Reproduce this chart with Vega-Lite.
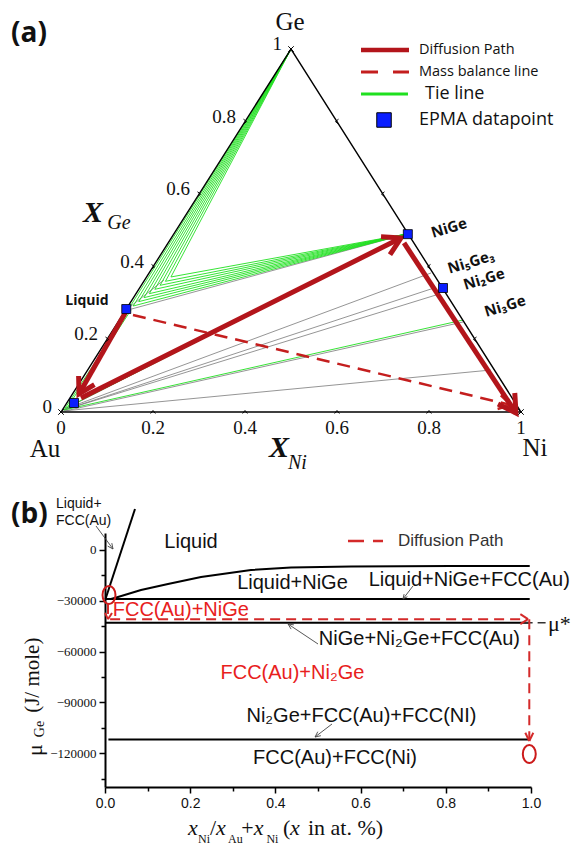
{
  "$schema": "https://vega.github.io/schema/vega-lite/v6.json",
  "padding": {"left": 10, "top": 0, "right": 0, "bottom": 0},
  "autosize": {"type": "pad"},
  "spacing": 20,
  "config": {"view": {"stroke": null}, "axis": {"grid": false}},
  "datasets": {
    "tern": [
      {"id": "tri", "kind": "edge", "o": 0, "n": 0, "g": 0},
      {"id": "tri", "kind": "edge", "o": 1, "n": 1, "g": 0},
      {"id": "tri", "kind": "edge", "o": 2, "n": 0, "g": 1},
      {"id": "tri", "kind": "edge", "o": 3, "n": 0, "g": 0},
      {"id": "gf0", "kind": "green", "o": 0, "n": 0, "g": 1}, {"id": "gf0", "kind": "green", "o": 1, "n": 0.005, "g": 0.281},
      {"id": "gf1", "kind": "green", "o": 0, "n": 0, "g": 1}, {"id": "gf1", "kind": "green", "o": 1, "n": 0.011, "g": 0.292},
      {"id": "gf2", "kind": "green", "o": 0, "n": 0, "g": 1}, {"id": "gf2", "kind": "green", "o": 1, "n": 0.017, "g": 0.304},
      {"id": "gf3", "kind": "green", "o": 0, "n": 0, "g": 1}, {"id": "gf3", "kind": "green", "o": 1, "n": 0.023, "g": 0.315},
      {"id": "gf4", "kind": "green", "o": 0, "n": 0, "g": 1}, {"id": "gf4", "kind": "green", "o": 1, "n": 0.029, "g": 0.326},
      {"id": "gf5", "kind": "green", "o": 0, "n": 0, "g": 1}, {"id": "gf5", "kind": "green", "o": 1, "n": 0.035, "g": 0.338},
      {"id": "gf6", "kind": "green", "o": 0, "n": 0, "g": 1}, {"id": "gf6", "kind": "green", "o": 1, "n": 0.041, "g": 0.349},
      {"id": "gf7", "kind": "green", "o": 0, "n": 0, "g": 1}, {"id": "gf7", "kind": "green", "o": 1, "n": 0.047, "g": 0.360},
      {"id": "gf8", "kind": "green", "o": 0, "n": 0, "g": 1}, {"id": "gf8", "kind": "green", "o": 1, "n": 0.053, "g": 0.372},
      {"id": "nf1", "kind": "green", "o": 0, "n": 0.011, "g": 0.292}, {"id": "nf1", "kind": "green", "o": 1, "n": 0.505, "g": 0.49},
      {"id": "nf2", "kind": "green", "o": 0, "n": 0.017, "g": 0.304}, {"id": "nf2", "kind": "green", "o": 1, "n": 0.505, "g": 0.49},
      {"id": "nf3", "kind": "green", "o": 0, "n": 0.023, "g": 0.315}, {"id": "nf3", "kind": "green", "o": 1, "n": 0.505, "g": 0.49},
      {"id": "nf4", "kind": "green", "o": 0, "n": 0.029, "g": 0.326}, {"id": "nf4", "kind": "green", "o": 1, "n": 0.505, "g": 0.49},
      {"id": "nf5", "kind": "green", "o": 0, "n": 0.035, "g": 0.338}, {"id": "nf5", "kind": "green", "o": 1, "n": 0.505, "g": 0.49},
      {"id": "nf6", "kind": "green", "o": 0, "n": 0.041, "g": 0.349}, {"id": "nf6", "kind": "green", "o": 1, "n": 0.505, "g": 0.49},
      {"id": "nf7", "kind": "green", "o": 0, "n": 0.047, "g": 0.360}, {"id": "nf7", "kind": "green", "o": 1, "n": 0.505, "g": 0.49},
      {"id": "nf8", "kind": "green", "o": 0, "n": 0.053, "g": 0.372}, {"id": "nf8", "kind": "green", "o": 1, "n": 0.505, "g": 0.49},
      {"id": "L1", "kind": "green", "o": 0, "n": 0.0117, "g": 0.281}, {"id": "L1", "kind": "green", "o": 1, "n": 0.0075, "g": 0.011},
      {"id": "L2", "kind": "green", "o": 0, "n": 0.008, "g": 0.2755}, {"id": "L2", "kind": "green", "o": 1, "n": 0.0037, "g": 0.0055},
      {"id": "G4", "kind": "green", "o": 0, "n": 0.0054, "g": 0.011}, {"id": "G4", "kind": "green", "o": 1, "n": 0.5076, "g": 0.4848},
      {"id": "G8", "kind": "green", "o": 0, "n": 0.0037, "g": 0.0055}, {"id": "G8", "kind": "green", "o": 1, "n": 0.7472, "g": 0.2534},
      {"id": "gl", "kind": "gray", "o": 0, "n": 0.005, "g": 0.281}, {"id": "gl", "kind": "gray", "o": 1, "n": 0.505, "g": 0.49},
      {"id": "G1", "kind": "gray", "o": 0, "n": 0.001, "g": 0.281}, {"id": "G1", "kind": "gray", "o": 1, "n": 0.042, "g": 0.364},
      {"id": "G3", "kind": "gray", "o": 0, "n": 0.0046, "g": 0.0083}, {"id": "G3", "kind": "gray", "o": 1, "n": 0.505, "g": 0.49},
      {"id": "G5", "kind": "gray", "o": 0, "n": 0.0046, "g": 0.0083}, {"id": "G5", "kind": "gray", "o": 1, "n": 0.6128, "g": 0.3829},
      {"id": "G6", "kind": "gray", "o": 0, "n": 0.0037, "g": 0.0055}, {"id": "G6", "kind": "gray", "o": 1, "n": 0.6401, "g": 0.3416},
      {"id": "G7", "kind": "gray", "o": 0, "n": 0.0037, "g": 0.0055}, {"id": "G7", "kind": "gray", "o": 1, "n": 0.654, "g": 0.3223},
      {"id": "G9", "kind": "gray", "o": 0, "n": 0.0073, "g": 0.0028}, {"id": "G9", "kind": "gray", "o": 1, "n": 0.7499, "g": 0.2479},
      {"id": "G10", "kind": "gray", "o": 0, "n": 0.0029, "g": 0.0028}, {"id": "G10", "kind": "gray", "o": 1, "n": 0.8769, "g": 0.1157},
      {"id": "p1", "kind": "path", "o": 0, "n": 0.003, "g": 0.276}, {"id": "p1", "kind": "path", "o": 1, "n": 0.0143, "g": 0.0496},
      {"id": "h1", "kind": "path", "o": 0, "n": 0.035, "g": 0.0752}, {"id": "h1", "kind": "path", "o": 1, "n": 0.0143, "g": 0.0496}, {"id": "h1", "kind": "path", "o": 2, "n": -0.0113, "g": 0.0992},
      {"id": "p2", "kind": "path", "o": 0, "n": 0.0242, "g": 0.0386}, {"id": "p2", "kind": "path", "o": 1, "n": 0.4994, "g": 0.4793},
      {"id": "h2", "kind": "path", "o": 0, "n": 0.4544, "g": 0.4826}, {"id": "h2", "kind": "path", "o": 1, "n": 0.4994, "g": 0.4793}, {"id": "h2", "kind": "path", "o": 2, "n": 0.4985, "g": 0.4333},
      {"id": "p3", "kind": "path", "o": 0, "n": 0.5129, "g": 0.4656}, {"id": "p3", "kind": "path", "o": 1, "n": 0.9905, "g": -0.0028},
      {"id": "h3", "kind": "path", "o": 0, "n": 0.9603, "g": 0.0523}, {"id": "h3", "kind": "path", "o": 1, "n": 0.9905, "g": -0.0028}, {"id": "h3", "kind": "path", "o": 2, "n": 0.939, "g": 0.022},
      {"id": "m1", "kind": "mass", "o": 0, "n": 0.0229, "g": 0.2672}, {"id": "m1", "kind": "mass", "o": 1, "n": 0.9687, "g": 0.0193},
      {"id": "mh", "kind": "masshead", "o": 0, "n": 0.9332, "g": 0.0457}, {"id": "mh", "kind": "masshead", "o": 1, "n": 0.9687, "g": 0.0193}, {"id": "mh", "kind": "masshead", "o": 2, "n": 0.945, "g": 0.0083}
    ],
    "epma": [
      {"n": 0.0, "g": 0.2837}, {"n": 0.0159, "g": 0.0248}, {"n": 0.509, "g": 0.49}, {"n": 0.6596, "g": 0.3416}
    ],
    "tticks": [
      {"side": "b", "n": 0.2, "g": 0}, {"side": "b", "n": 0.4, "g": 0}, {"side": "b", "n": 0.6, "g": 0}, {"side": "b", "n": 0.8, "g": 0},
      {"side": "l", "n": 0, "g": 0.2}, {"side": "l", "n": 0, "g": 0.4}, {"side": "l", "n": 0, "g": 0.6}, {"side": "l", "n": 0, "g": 0.8},
      {"side": "r", "n": 0.8, "g": 0.2}, {"side": "r", "n": 0.6, "g": 0.4}, {"side": "r", "n": 0.4, "g": 0.6}, {"side": "r", "n": 0.2, "g": 0.8},
      {"side": "v", "n": 0, "g": 0}, {"side": "v", "n": 1, "g": 0}, {"side": "v", "n": 0, "g": 1}
    ],
    "tlab_bottom": [
      {"n": 0, "g": 0, "t": "0"}, {"n": 0.2, "g": 0, "t": "0.2"}, {"n": 0.4, "g": 0, "t": "0.4"},
      {"n": 0.6, "g": 0, "t": "0.6"}, {"n": 0.8, "g": 0, "t": "0.8"}, {"n": 1, "g": 0, "t": "1"}
    ],
    "tlab_left": [
      {"n": 0, "g": 0, "t": "0"}, {"n": 0, "g": 0.2, "t": "0.2"}, {"n": 0, "g": 0.4, "t": "0.4"},
      {"n": 0, "g": 0.6, "t": "0.6"}, {"n": 0, "g": 0.8, "t": "0.8"}, {"n": 0, "g": 1, "t": "1"}
    ],
    "vlab": [
      {"px": 0.4978, "py": 1.0744, "t": "Ge"}, {"px": -0.0348, "py": -0.1019, "t": "Au"}, {"px": 1.0304, "py": -0.0992, "t": "Ni"}
    ],
    "xt_a_main": [{"px": 0.0696, "py": 0.5482, "t": "X"}, {"px": 0.4739, "py": -0.0992, "t": "X"}],
    "xt_a_sub": [{"px": 0.1261, "py": 0.5207, "t": "Ge"}, {"px": 0.514, "py": -0.1405, "t": "Ni"}],
    "phase_a": [
      {"px": 0.8435, "py": 0.5069, "t": "NiGe"}, {"px": 0.8913, "py": 0.4132, "t": "Ni₅Ge₃"},
      {"px": 0.9196, "py": 0.3664, "t": "Ni₂Ge"}, {"px": 0.9652, "py": 0.292, "t": "Ni₃Ge"}
    ],
    "liq_a": [{"px": 0.0565, "py": 0.3058, "t": "Liquid"}],
    "leg_a_lines": [
      {"k": "diff", "px": 0.6522, "py": 0.9972}, {"k": "diff", "px": 0.7565, "py": 0.9972},
      {"k": "mass", "px": 0.6522, "py": 0.9366}, {"k": "mass", "px": 0.7565, "py": 0.9366},
      {"k": "tie", "px": 0.6522, "py": 0.876}, {"k": "tie", "px": 0.7543, "py": 0.876}
    ],
    "leg_a_sq": [{"px": 0.7022, "py": 0.8044}],
    "leg_a_text": [
      {"t": "Diffusion Path", "px": 0.7783, "py": 0.9972}, {"t": "Mass balance line", "px": 0.7783, "py": 0.9366},
      {"t": "Tie line", "px": 0.7913, "py": 0.876}, {"t": "EPMA datapoint", "px": 0.7783, "py": 0.8044}
    ],
    "alab": [{"t": "(a)", "px": -0.1087, "py": 1.0799}],
    "segs": [
      {"k": "black", "x": 0.0012, "y": -28976, "x2": 0.0704, "y2": 24173},
      {"k": "black", "x": 0, "y": -29000, "x2": 0.997, "y2": -29000},
      {"k": "black", "x": 0, "y": -43000, "x2": 0.997, "y2": -43000},
      {"k": "black", "x": 0.008, "y": -112000, "x2": 0.997, "y2": -112000},
      {"k": "reddash", "x": 0.007, "y": -31900, "x2": 0.007, "y2": -40500},
      {"k": "reddash", "x": 0.012, "y": -40900, "x2": 0.99, "y2": -40900},
      {"k": "reddash", "x": 0.996, "y": -40900, "x2": 0.996, "y2": -112500},
      {"k": "redhead", "x": 0.0, "y": -37200, "x2": 0.007, "y2": -40900},
      {"k": "redhead", "x": 0.0164, "y": -37200, "x2": 0.007, "y2": -40900},
      {"k": "redhead", "x": 0.975, "y": -37950, "x2": 0.993, "y2": -40900},
      {"k": "redhead", "x": 0.975, "y": -43850, "x2": 0.993, "y2": -40900},
      {"k": "redhead", "x": 0.9866, "y": -108000, "x2": 0.996, "y2": -112800},
      {"k": "redhead", "x": 1.0054, "y": -108000, "x2": 0.996, "y2": -112800},
      {"k": "thin", "x": -0.0211, "y": 14134, "x2": 0.0188, "y2": 551},
      {"k": "thin", "x": 0.016, "y": 4035, "x2": 0.0188, "y2": 551},
      {"k": "thin", "x": 0.0063, "y": 2264, "x2": 0.0188, "y2": 551},
      {"k": "thin", "x": 0.723, "y": -21299, "x2": 0.6995, "y2": -28976},
      {"k": "thin", "x": 0.7099, "y": -27618, "x2": 0.6995, "y2": -28976},
      {"k": "thin", "x": 0.7021, "y": -26083, "x2": 0.6995, "y2": -28976},
      {"k": "thin", "x": 0.5, "y": -55551, "x2": 0.4296, "y2": -43740},
      {"k": "thin", "x": 0.4369, "y": -46752, "x2": 0.4296, "y2": -43740},
      {"k": "thin", "x": 0.4434, "y": -44272, "x2": 0.4296, "y2": -43740},
      {"k": "thin", "x": 0.5329, "y": -102795, "x2": 0.493, "y2": -110472},
      {"k": "thin", "x": 0.5068, "y": -109705, "x2": 0.493, "y2": -110472},
      {"k": "thin", "x": 0.4995, "y": -107343, "x2": 0.493, "y2": -110472},
      {"k": "blackdash", "x": 0.985, "y": -43000, "x2": 1.035, "y2": -43000}
    ],
    "curve": [
      {"x": 0.0141, "y": -28976}, {"x": 0.0305, "y": -27795}, {"x": 0.0845, "y": -23661},
      {"x": 0.1479, "y": -20118}, {"x": 0.2254, "y": -15984}, {"x": 0.3427, "y": -11850},
      {"x": 0.4366, "y": -10374}, {"x": 0.5775, "y": -9783}, {"x": 0.8122, "y": -9488}, {"x": 0.997, "y": -9488}
    ],
    "circles": [{"x": 0.0094, "y": -26600}, {"x": 0.996, "y": -120500}],
    "lab_b_black": [
      {"t": "Liquid", "x": 0.2019, "y": 4700},
      {"t": "Liquid+NiGe", "x": 0.44, "y": -19500},
      {"t": "Liquid+NiGe+FCC(Au)", "x": 0.855, "y": -17750},
      {"t": "NiGe+Ni₂Ge+FCC(Au)", "x": 0.738, "y": -52600},
      {"t": "Ni₂Ge+FCC(Au)+FCC(NI)", "x": 0.602, "y": -98000},
      {"t": "FCC(Au)+FCC(Ni)", "x": 0.54, "y": -122900}
    ],
    "lab_b_red": [
      {"t": "FCC(Au)+NiGe", "x": 0.178, "y": -35500},
      {"t": "FCC(Au)+Ni₂Ge", "x": 0.44, "y": -72700}
    ],
    "lab_b_small": [{"t": "Liquid+", "x": -0.115, "y": 27100}, {"t": "FCC(Au)", "x": -0.115, "y": 17100}],
    "leg_b_line": [{"x": 0.5704, "y": 5276}, {"x": 0.6526, "y": 5276}],
    "leg_b_text": [{"t": "Diffusion Path", "x": 0.6878, "y": 5276}],
    "mu": [{"t": "μ*", "x": 1.04, "y": -44000}],
    "blab": [{"t": "(b)", "x": -0.2207, "y": 20630}],
    "ytitle_mu": [{"t": "μ", "x": -0.1643, "y": -118150}],
    "ytitle_sub": [{"t": "Ge", "x": -0.1526, "y": -105750}],
    "ytitle_rest": [{"t": "(J/ mole)", "x": -0.169, "y": -74000}],
    "xt_it": [{"t": "x", "x": 0.1948, "y": -168346}, {"t": "x", "x": 0.2606, "y": -168346}, {"t": "x", "x": 0.349, "y": -168346}, {"t": "x", "x": 0.4343, "y": -168346}],
    "xt_up": [{"t": "/", "x": 0.2465, "y": -168346}, {"t": "+", "x": 0.32, "y": -168346}, {"t": "(", "x": 0.4178, "y": -168346}, {"t": "in at. %)", "x": 0.4765, "y": -168346}],
    "xt_sub": [{"t": "Ni", "x": 0.2183, "y": -170708}, {"t": "Au", "x": 0.2887, "y": -170708}, {"t": "Ni", "x": 0.379, "y": -170708}]
  },
  "vconcat": [
    {
      "width": 460,
      "height": 477,
      "encoding": {
        "x": {"field": "px", "type": "quantitative", "scale": {"domain": [0.09565, 1.09565], "nice": false, "zero": false}, "axis": null},
        "y": {"field": "py", "type": "quantitative", "scale": {"domain": [-0.17906, 1.13499], "nice": false, "zero": false}, "axis": null}
      },
      "layer": [
        {
          "data": {"name": "tern"},
          "transform": [{"filter": "datum.kind == 'gray'"}, {"calculate": "datum.n + datum.g/2", "as": "px"}, {"calculate": "datum.g", "as": "py"}],
          "mark": {"type": "line", "color": "#7a7a7a", "strokeWidth": 0.8},
          "encoding": {"detail": {"field": "id", "type": "nominal"}, "order": {"field": "o", "type": "quantitative"}}
        },
        {
          "data": {"name": "tern"},
          "transform": [{"filter": "datum.kind == 'green'"}, {"calculate": "datum.n + datum.g/2", "as": "px"}, {"calculate": "datum.g", "as": "py"}],
          "mark": {"type": "line", "color": "#1fe01f", "strokeWidth": 0.9},
          "encoding": {"detail": {"field": "id", "type": "nominal"}, "order": {"field": "o", "type": "quantitative"}}
        },
        {
          "data": {"name": "tern"},
          "transform": [{"filter": "datum.kind == 'edge'"}, {"calculate": "datum.n + datum.g/2", "as": "px"}, {"calculate": "datum.g", "as": "py"}],
          "mark": {"type": "line", "color": "black", "strokeWidth": 1.4},
          "encoding": {"detail": {"field": "id", "type": "nominal"}, "order": {"field": "o", "type": "quantitative"}}
        },
        {
          "data": {"name": "tern"},
          "transform": [{"filter": "datum.kind == 'mass'"}, {"calculate": "datum.n + datum.g/2", "as": "px"}, {"calculate": "datum.g", "as": "py"}],
          "mark": {"type": "line", "color": "#c41e1e", "strokeWidth": 2.5, "strokeDash": [13, 8]},
          "encoding": {"detail": {"field": "id", "type": "nominal"}, "order": {"field": "o", "type": "quantitative"}}
        },
        {
          "data": {"name": "tern"},
          "transform": [{"filter": "datum.kind == 'masshead'"}, {"calculate": "datum.n + datum.g/2", "as": "px"}, {"calculate": "datum.g", "as": "py"}],
          "mark": {"type": "line", "color": "#c41e1e", "strokeWidth": 2.5},
          "encoding": {"detail": {"field": "id", "type": "nominal"}, "order": {"field": "o", "type": "quantitative"}}
        },
        {
          "data": {"name": "tern"},
          "transform": [{"filter": "datum.kind == 'path'"}, {"calculate": "datum.n + datum.g/2", "as": "px"}, {"calculate": "datum.g", "as": "py"}],
          "mark": {"type": "line", "color": "#b3151b", "strokeWidth": 5, "strokeCap": "butt", "strokeJoin": "miter"},
          "encoding": {"detail": {"field": "id", "type": "nominal"}, "order": {"field": "o", "type": "quantitative"}}
        },
        {
          "data": {"name": "epma"},
          "transform": [{"calculate": "datum.n + datum.g/2", "as": "px"}, {"calculate": "datum.g", "as": "py"}],
          "mark": {"type": "square", "size": 81, "fill": "#0a1eff", "stroke": "black", "strokeWidth": 0.8, "opacity": 1, "fillOpacity": 1}
        },
        {
          "data": {"name": "tticks"},
          "transform": [{"filter": "datum.side == 'b'"}, {"calculate": "datum.n + datum.g/2", "as": "px"}, {"calculate": "datum.g", "as": "py"}],
          "mark": {"type": "point", "shape": "M -0.8 0.5 L 0 -0.5 L 0.8 0.5", "size": 36, "filled": false, "color": "black", "strokeWidth": 1, "opacity": 1}
        },
        {
          "data": {"name": "tticks"},
          "transform": [{"filter": "datum.side == 'l'"}, {"calculate": "datum.n + datum.g/2", "as": "px"}, {"calculate": "datum.g", "as": "py"}],
          "mark": {"type": "point", "shape": "M -0.5 -0.8 L 0.5 0 L -0.5 0.8", "size": 36, "filled": false, "color": "black", "strokeWidth": 1, "opacity": 1}
        },
        {
          "data": {"name": "tticks"},
          "transform": [{"filter": "datum.side == 'r'"}, {"calculate": "datum.n + datum.g/2", "as": "px"}, {"calculate": "datum.g", "as": "py"}],
          "mark": {"type": "point", "shape": "M 0.5 -0.8 L -0.5 0 L 0.5 0.8", "size": 36, "filled": false, "color": "black", "strokeWidth": 1, "opacity": 1}
        },
        {
          "data": {"name": "tticks"},
          "transform": [{"filter": "datum.side == 'v'"}, {"calculate": "datum.n + datum.g/2", "as": "px"}, {"calculate": "datum.g", "as": "py"}],
          "mark": {"type": "point", "shape": "M -1 -1 L 1 1 M -1 1 L 1 -1", "size": 30, "filled": false, "color": "black", "strokeWidth": 1, "opacity": 1}
        },
        {
          "data": {"name": "tlab_bottom"},
          "transform": [{"calculate": "datum.n + datum.g/2", "as": "px"}, {"calculate": "datum.g", "as": "py"}],
          "mark": {"type": "text", "font": "Liberation Serif", "fontSize": 19, "dy": 16, "align": "center", "baseline": "middle", "color": "#111"},
          "encoding": {"text": {"field": "t"}}
        },
        {
          "data": {"name": "tlab_left"},
          "transform": [{"calculate": "datum.n + datum.g/2", "as": "px"}, {"calculate": "datum.g", "as": "py"}],
          "mark": {"type": "text", "font": "Liberation Serif", "fontSize": 19, "dx": -9, "dy": -5, "align": "right", "baseline": "middle", "color": "#111"},
          "encoding": {"text": {"field": "t"}}
        },
        {
          "data": {"name": "vlab"},
          "mark": {"type": "text", "font": "Liberation Serif", "fontSize": 25, "align": "center", "baseline": "middle", "color": "#111"},
          "encoding": {"text": {"field": "t"}}
        },
        {
          "data": {"name": "xt_a_main"},
          "mark": {"type": "text", "font": "Liberation Serif", "fontSize": 30, "fontStyle": "italic", "fontWeight": "bold", "align": "center", "baseline": "middle", "color": "#111"},
          "encoding": {"text": {"field": "t"}}
        },
        {
          "data": {"name": "xt_a_sub"},
          "mark": {"type": "text", "font": "Liberation Serif", "fontSize": 20, "fontStyle": "italic", "align": "center", "baseline": "middle", "color": "#111"},
          "encoding": {"text": {"field": "t"}}
        },
        {
          "data": {"name": "phase_a"},
          "mark": {"type": "text", "font": "Open Sans", "fontSize": 15, "fontWeight": "bold", "angle": 343, "align": "center", "baseline": "middle", "color": "#111"},
          "encoding": {"text": {"field": "t"}}
        },
        {
          "data": {"name": "liq_a"},
          "mark": {"type": "text", "font": "Open Sans", "fontSize": 14, "fontWeight": "bold", "align": "center", "baseline": "middle", "color": "#111"},
          "encoding": {"text": {"field": "t"}}
        },
        {
          "data": {"name": "leg_a_lines"},
          "transform": [{"filter": "datum.k == 'diff'"}],
          "mark": {"type": "line", "color": "#b3151b", "strokeWidth": 4.5},
          "encoding": {"detail": {"field": "k", "type": "nominal"}}
        },
        {
          "data": {"name": "leg_a_lines"},
          "transform": [{"filter": "datum.k == 'mass'"}],
          "mark": {"type": "line", "color": "#c41e1e", "strokeWidth": 3, "strokeDash": [17, 15]},
          "encoding": {"detail": {"field": "k", "type": "nominal"}}
        },
        {
          "data": {"name": "leg_a_lines"},
          "transform": [{"filter": "datum.k == 'tie'"}],
          "mark": {"type": "line", "color": "#1fe01f", "strokeWidth": 3},
          "encoding": {"detail": {"field": "k", "type": "nominal"}}
        },
        {
          "data": {"name": "leg_a_sq"},
          "mark": {"type": "square", "size": 210, "fill": "#0a1eff", "stroke": "black", "strokeWidth": 1, "opacity": 1, "fillOpacity": 1}
        },
        {
          "data": {"name": "leg_a_text"},
          "transform": [{"filter": "datum.t == 'Diffusion Path' || datum.t == 'Mass balance line'"}],
          "mark": {"type": "text", "font": "Open Sans", "fontSize": 14.5, "align": "left", "baseline": "middle", "color": "#111"},
          "encoding": {"text": {"field": "t"}}
        },
        {
          "data": {"name": "leg_a_text"},
          "transform": [{"filter": "datum.t == 'Tie line' || datum.t == 'EPMA datapoint'"}],
          "mark": {"type": "text", "font": "Open Sans", "fontSize": 18, "align": "left", "baseline": "middle", "color": "#111"},
          "encoding": {"text": {"field": "t"}}
        },
        {
          "data": {"name": "alab"},
          "mark": {"type": "text", "font": "Open Sans", "fontSize": 28, "fontWeight": "bold", "align": "left", "baseline": "top", "color": "#111"},
          "encoding": {"text": {"field": "t"}}
        }
      ]
    },
    {
      "width": 426,
      "height": 254,
      "encoding": {
        "x": {
          "field": "x", "type": "quantitative",
          "scale": {"domain": [0, 1], "nice": false, "zero": false},
          "axis": {
            "title": null,
            "values": [0, 0.1, 0.2, 0.3, 0.4, 0.5, 0.6, 0.7, 0.8, 0.9, 1.0],
            "format": ".1f",
            "labelExpr": "round(datum.value*10) % 2 == 0 ? datum.label : ''",
            "labelFont": "Liberation Sans", "labelFontSize": 14, "labelColor": "#111",
            "labelPadding": 3, "labelOverlap": false, "labelFlush": false,
            "tickColor": "black", "tickWidth": 1.5,
            "tickSize": {"condition": {"test": "round(datum.value*10) % 2 == 0", "value": 6}, "value": 4},
            "domainColor": "black", "domainWidth": 2, "grid": false
          }
        },
        "y": {
          "field": "y", "type": "quantitative",
          "scale": {"domain": [-140000, 10000], "nice": false, "zero": false},
          "axis": {
            "title": null,
            "values": [-135000, -120000, -105000, -90000, -75000, -60000, -45000, -30000, -15000, 0],
            "format": "d",
            "labelExpr": "datum.value % 30000 == 0 ? datum.label : ''",
            "labelFont": "Liberation Serif", "labelFontSize": 13, "labelColor": "#111",
            "labelPadding": 3, "labelOverlap": false, "labelFlush": false,
            "tickColor": "black", "tickWidth": 1.5,
            "tickSize": {"condition": {"test": "datum.value % 30000 == 0", "value": 6}, "value": 4},
            "domainColor": "black", "domainWidth": 2, "grid": false
          }
        }
      },
      "layer": [
        {
          "data": {"name": "segs"},
          "transform": [{"filter": "datum.k == 'black'"}],
          "mark": {"type": "rule", "color": "black", "strokeWidth": 2},
          "encoding": {"x2": {"field": "x2"}, "y2": {"field": "y2"}}
        },
        {
          "data": {"name": "curve"},
          "mark": {"type": "line", "color": "black", "strokeWidth": 2},
          "encoding": {}
        },
        {
          "data": {"name": "segs"},
          "transform": [{"filter": "datum.k == 'blackdash'"}],
          "mark": {"type": "rule", "color": "#333", "strokeWidth": 1.5, "strokeDash": [8, 5]},
          "encoding": {"x2": {"field": "x2"}, "y2": {"field": "y2"}}
        },
        {
          "data": {"name": "segs"},
          "transform": [{"filter": "datum.k == 'reddash'"}],
          "mark": {"type": "rule", "color": "#d42a2a", "strokeWidth": 2, "strokeDash": [10, 6]},
          "encoding": {"x2": {"field": "x2"}, "y2": {"field": "y2"}}
        },
        {
          "data": {"name": "segs"},
          "transform": [{"filter": "datum.k == 'redhead'"}],
          "mark": {"type": "rule", "color": "#d42a2a", "strokeWidth": 2},
          "encoding": {"x2": {"field": "x2"}, "y2": {"field": "y2"}}
        },
        {
          "data": {"name": "segs"},
          "transform": [{"filter": "datum.k == 'thin'"}],
          "mark": {"type": "rule", "color": "#444", "strokeWidth": 0.9},
          "encoding": {"x2": {"field": "x2"}, "y2": {"field": "y2"}}
        },
        {
          "data": {"name": "circles"},
          "mark": {"type": "point", "shape": "M 0 -1 C 0.3977 -1 0.72 -0.5523 0.72 0 C 0.72 0.5523 0.3977 1 0 1 C -0.3977 1 -0.72 0.5523 -0.72 0 C -0.72 -0.5523 -0.3977 -1 0 -1 Z", "size": 324, "filled": false, "color": "#cc1a1a", "strokeWidth": 2, "opacity": 1}
        },
        {
          "data": {"name": "leg_b_line"},
          "mark": {"type": "line", "color": "#d42a2a", "strokeWidth": 2.5, "strokeDash": [16, 9]},
          "encoding": {}
        },
        {
          "data": {"name": "leg_b_text"},
          "mark": {"type": "text", "font": "Liberation Sans", "fontSize": 17, "align": "left", "baseline": "middle", "color": "#333"},
          "encoding": {"text": {"field": "t"}}
        },
        {
          "data": {"name": "lab_b_black"},
          "mark": {"type": "text", "font": "Liberation Sans", "fontSize": 20, "align": "center", "baseline": "middle", "color": "#111"},
          "encoding": {"text": {"field": "t"}}
        },
        {
          "data": {"name": "lab_b_red"},
          "mark": {"type": "text", "font": "Liberation Sans", "fontSize": 20, "align": "center", "baseline": "middle", "color": "#e8201c"},
          "encoding": {"text": {"field": "t"}}
        },
        {
          "data": {"name": "lab_b_small"},
          "mark": {"type": "text", "font": "Liberation Sans", "fontSize": 14, "align": "left", "baseline": "middle", "color": "#111"},
          "encoding": {"text": {"field": "t"}}
        },
        {
          "data": {"name": "mu"},
          "mark": {"type": "text", "font": "Liberation Serif", "fontSize": 22, "align": "left", "baseline": "middle", "color": "#111"},
          "encoding": {"text": {"field": "t"}}
        },
        {
          "data": {"name": "blab"},
          "mark": {"type": "text", "font": "Open Sans", "fontSize": 28, "fontWeight": "bold", "align": "left", "baseline": "middle", "color": "#111"},
          "encoding": {"text": {"field": "t"}}
        },
        {
          "data": {"name": "ytitle_mu"},
          "mark": {"type": "text", "font": "Liberation Serif", "fontSize": 22, "angle": 270, "align": "center", "baseline": "middle", "color": "#111"},
          "encoding": {"text": {"field": "t"}}
        },
        {
          "data": {"name": "ytitle_sub"},
          "mark": {"type": "text", "font": "Liberation Serif", "fontSize": 14, "angle": 270, "align": "center", "baseline": "middle", "color": "#111"},
          "encoding": {"text": {"field": "t"}}
        },
        {
          "data": {"name": "ytitle_rest"},
          "mark": {"type": "text", "font": "Liberation Serif", "fontSize": 21, "angle": 270, "align": "center", "baseline": "middle", "color": "#111"},
          "encoding": {"text": {"field": "t"}}
        },
        {
          "data": {"name": "xt_it"},
          "mark": {"type": "text", "font": "Liberation Serif", "fontSize": 22, "fontStyle": "italic", "align": "left", "baseline": "alphabetic", "color": "#111"},
          "encoding": {"text": {"field": "t"}}
        },
        {
          "data": {"name": "xt_up"},
          "mark": {"type": "text", "font": "Liberation Serif", "fontSize": 22, "align": "left", "baseline": "alphabetic", "color": "#111"},
          "encoding": {"text": {"field": "t"}}
        },
        {
          "data": {"name": "xt_sub"},
          "mark": {"type": "text", "font": "Liberation Serif", "fontSize": 12, "align": "left", "baseline": "middle", "color": "#111"},
          "encoding": {"text": {"field": "t"}}
        }
      ]
    }
  ]
}
